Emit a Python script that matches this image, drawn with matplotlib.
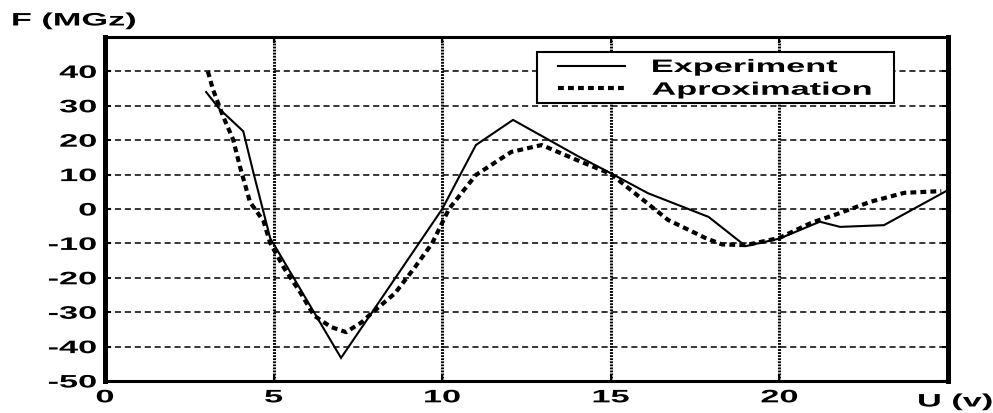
"""
F(U): experiment vs aproximation, scanned-style MATLAB chart
"""
import matplotlib
matplotlib.use('Agg')
import matplotlib.pyplot as plt
import matplotlib.patheffects as pe
import matplotlib.patches as patches
from matplotlib.transforms import Affine2D

# --- data ---
exp_u = [3, 3.4, 4.1, 4.4, 4.9, 7, 10, 11, 12.1, 14, 15, 16.1, 17.9, 19, 20, 21.2, 21.8, 23.1, 25]
exp_f = [34, 29, 22.6, 10.6, -8.5, -43.3, 0, 18.6, 25.9, 15.5, 10.4, 4.6, -2.3, -10.8, -8.6, -3.7, -5.2, -4.7, 5.5]

apx_u = [3.05, 3.2, 3.5, 3.8, 4.0, 4.3, 4.7, 4.9, 5.3, 5.8, 6.2, 6.7, 7.15, 7.6, 8.0, 8.6, 9.2,
         9.7, 10.2, 11, 12.05, 12.95, 14, 15, 16.7, 17.8, 18.3, 19, 20, 20.95, 21.7, 22.7, 23.7, 24.8]
apx_f = [40, 34.8, 27, 20.2, 12.4, 2, -3.5, -9.9, -17, -24.4, -31, -34.3, -35.8, -33, -29.5, -24.5, -16.8,
         -10, 0, 9.9, 16.6, 18.6, 14.2, 10.2, -3.2, -8.4, -10.3, -10.5, -8.4, -4, -1.5, 2.1, 4.7, 5.2]

x_ticks = [0, 5, 10, 15, 20]
y_ticks = [-50, -40, -30, -20, -10, 0, 10, 20, 30, 40]
labels = ['Experiment', 'Aproximation']


class Stretch(pe.AbstractPathEffect):
    """draw text glyphs widened horizontally (the scan is stretched ~2x)"""
    def __init__(self, sx=1.9, ha='left'):
        super().__init__()
        self.sx, self.ha = sx, ha

    def draw_path(self, renderer, gc, tpath, affine, rgbFace=None):
        ext = tpath.get_extents()
        x0 = {'left': ext.x0, 'center': (ext.x0 + ext.x1) / 2, 'right': ext.x1}[self.ha]
        t = Affine2D().translate(-x0, 0).scale(self.sx, 1).translate(x0, 0) + affine
        renderer.draw_path(gc, tpath, t, rgbFace)


plt.rcParams['font.family'] = ['Liberation Sans', 'DejaVu Sans']
plt.rcParams['axes.unicode_minus'] = False
FS = 13
SX = 1.9

fig = plt.figure(figsize=(9.93, 4.14), dpi=100, facecolor='white')
ax = fig.add_axes([105/993, 32/414, 843/993, 344/414])

ax.plot(exp_u, exp_f, color='black', lw=1.5, solid_joinstyle='miter', label=labels[0], zorder=4)
ax.plot(apx_u, apx_f, color='black', lw=3.0, linestyle=(0, (1.4, 1.0)), label=labels[1], zorder=3)

ax.set_xlim(0, 25)
ax.set_ylim(-50, 50)
ax.set_xticks(x_ticks)
ax.set_yticks(y_ticks)

ax.xaxis.grid(True, color='black', lw=2.2, linestyle=(0, (0.6, 0.4)))
ax.yaxis.grid(True, color='black', lw=1.1, linestyle=(0, (4, 2.5)))
ax.set_axisbelow(True)

for side in ['left', 'right']:
    ax.spines[side].set_linewidth(3.6)
for side in ['top', 'bottom']:
    ax.spines[side].set_linewidth(2.2)

ax.tick_params(direction='in', length=4, width=1.5, top=True, right=True,
               labelsize=FS, pad=6)
for lbl in ax.get_xticklabels():
    lbl.set_fontweight('bold')
    lbl.set_path_effects([Stretch(SX, 'center')])
for lbl in ax.get_yticklabels():
    lbl.set_fontweight('bold')
    lbl.set_path_effects([Stretch(SX, 'right')])

# legend frame drawn by hand (pixel box 537..894 x 53..104)
ax.add_patch(patches.Rectangle(((537-105)/843, (382-104)/344), (894-537)/843, 51/344,
                               transform=ax.transAxes, facecolor='white', edgecolor='black',
                               lw=1.5, zorder=5))
leg = ax.legend(loc='upper left', bbox_to_anchor=((558-105)/843, (382-60)/344),
                borderaxespad=0, frameon=False, handlelength=3.7, handletextpad=1.5,
                borderpad=0, labelspacing=0.32,
                prop={'size': FS, 'weight': 'bold'})
leg.set_zorder(6)
for t in leg.get_texts():
    t.set_path_effects([Stretch(SX, 'left')])

fig.text(12/993, 1 - 22/414, 'F (MGz)', fontsize=FS, fontweight='bold', ha='left', va='center',
         path_effects=[Stretch(SX, 'left')])
fig.text(918/993, 1 - 403/414, 'U (v)', fontsize=FS, fontweight='bold', ha='left', va='center',
         path_effects=[Stretch(SX, 'left')])

fig.savefig('out.png', dpi=100, facecolor='white')
plt.close()
